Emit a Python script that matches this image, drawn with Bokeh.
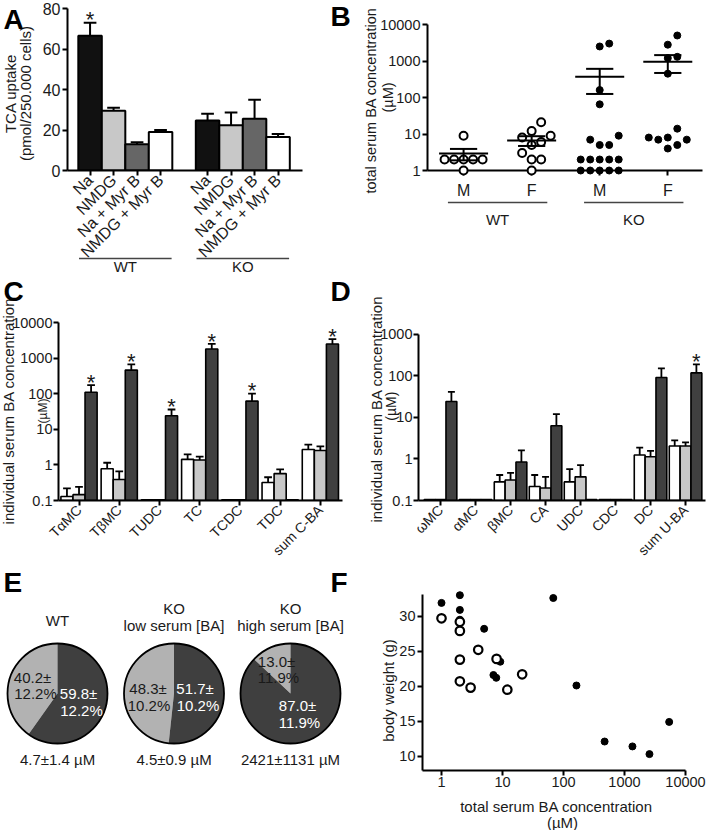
import math
from bokeh.plotting import figure
from bokeh.models import Range1d, FixedTicker
from bokeh.layouts import column, row
from bokeh.embed import file_html
from bokeh.resources import INLINE
from bokeh.core.properties import value

FONT = "Liberation Sans"
TXT = "#1a1a1a"

# ---------------- data ----------------
# A: TCA uptake (pmol/250.000 cells)
a_conditions = ["Na", "NMDG", "Na + Myr B", "NMDG + Myr B"]
a_groups = ["WT", "KO"]
a_wt_mean = [66.5, 29.5, 13.0, 19.0]
a_wt_err = [73.0, 31.0, 14.0, 20.0]
a_ko_mean = [24.7, 22.3, 25.6, 16.5]
a_ko_err = [28.0, 28.6, 35.0, 18.0]
a_sig = [True, False, False, False, False, False, False, False]
a_yticks = [0, 20, 40, 60, 80]

# B: total serum BA concentration (uM)
b_groups = ["WT", "KO"]
b_sex = ["M", "F", "M", "F"]
b_wt_m = [1, 2, 2, 2, 2, 2, 9]
b_wt_f = [1, 2, 2, 3, 5, 6, 8, 9, 12, 21]
b_ko_m = [1, 1, 1, 1, 1, 2, 2, 2, 2, 2, 5, 5, 7, 9, 65, 160, 2500, 3000]
b_ko_f = [4, 5, 7, 7, 8, 8, 14, 450, 1200, 1300, 2800, 5000]
b_mean = [2.9, 6.6, 370, 950]
b_sem_lo = [1.9, 4.7, 125, 470]
b_sem_hi = [3.9, 8.7, 610, 1450]
b_yticks = [1, 10, 100, 1000, 10000]

# C: conjugated BA (uM)  white = WT, light = KO low, dark = KO high
c_cats = ["T\u03b1MC", "T\u03b2MC", "TUDC", "TC", "TCDC", "TDC", "sum C-BA"]
c_wt = [0.13, 0.78, 0.105, 1.43, 0.105, 0.32, 2.7]
c_wt_err = [0.22, 1.15, None, 1.98, None, 0.45, 3.7]
c_kol = [0.146, 0.39, 0.105, 1.37, 0.105, 0.57, 2.55]
c_kol_err = [0.24, 0.66, None, 1.7, None, 0.75, 3.3]
c_koh = [110, 460, 24, 1800, 62, 0.105, 2500]
c_koh_err = [175, 670, 36, 2500, 100, None, 3400]
c_sig = [True, True, True, True, True, False, True]
c_yticks = [0.1, 1, 10, 100, 1000, 10000]

# D: unconjugated BA (uM)
d_cats = ["\u03c9MC", "\u03b1MC", "\u03b2MC", "CA", "UDC", "CDC", "DC", "sum U-BA"]
d_wt = [0.105, 0.105, 0.28, 0.217, 0.28, 0.105, 1.24, 2.05]
d_wt_err = [None, None, 0.41, 0.41, 0.57, None, 1.87, 2.78]
d_kol = [0.105, 0.105, 0.31, 0.2, 0.37, 0.105, 1.13, 2.05]
d_kol_err = [None, None, 0.46, 0.37, 0.71, None, 1.56, 2.5]
d_koh = [24, 0.105, 0.84, 6.3, 0.105, 0.105, 91, 117]
d_koh_err = [41, None, 1.6, 12, None, None, 150, 187]
d_sig = [False, False, False, False, False, False, False, True]
d_yticks = [0.1, 1, 10, 100, 1000]

# E: pies (conjugated share, %)
e_titles = [["WT"], ["KO", "low serum [BA]"], ["KO", "high serum [BA]"]]
e_dark_pct = [59.8, 51.7, 87.0]
e_sd = [12.2, 10.2, 11.9]
e_total = [4.7, 4.5, 2421]
e_total_sd = [1.4, 0.9, 1131]

# F: body weight vs total serum BA
f_ko_x = [1, 2, 2, 2, 5, 68, 9.2, 7.1, 7.9, 163, 472, 1350, 2565, 5400]
f_ko_y = [31.9, 33.0, 30.9, 29.5, 28.2, 32.6, 23.5, 21.6, 21.2, 20.1, 12.1, 11.4, 10.3, 14.9]
f_wt_x = [1, 2, 2, 4, 2, 8, 2, 3, 12, 21]
f_wt_y = [29.7, 29.2, 27.9, 25.2, 23.8, 23.9, 20.7, 19.8, 19.5, 21.7]
f_xticks = [1, 10, 100, 1000, 10000]
f_yticks = [10, 15, 20, 25, 30]


# ---------------- helpers ----------------
class Geo:
    """Figure placed at page (ox, oy) with its frame at page box (fl..fr, ft..fb)."""
    def __init__(s, ox, oy, w, h, fl, fr, ft, fb, xr, yr, xlog=False, ylog=False):
        s.ox, s.oy, s.w, s.h = ox, oy, w, h
        s.fl, s.fr, s.ft, s.fb = fl, fr, ft, fb
        s.xr, s.yr, s.xlog, s.ylog = xr, yr, xlog, ylog

    @staticmethod
    def _m(t, r, log):
        if log:
            a, b = math.log10(r[0]), math.log10(r[1])
            return 10 ** (a + t * (b - a))
        return r[0] + t * (r[1] - r[0])

    def x(s, px):
        return s._m((px - s.fl) / (s.fr - s.fl), s.xr, s.xlog)

    def y(s, py):
        return s._m((s.fb - py) / (s.fb - s.ft), s.yr, s.ylog)

    def xppu(s):
        return (s.fr - s.fl) / (s.xr[1] - s.xr[0])

    def up(s, v, px):
        """value v moved up by px screen pixels"""
        if s.ylog:
            ppd = (s.fb - s.ft) / (math.log10(s.yr[1]) - math.log10(s.yr[0]))
            return v * 10 ** (px / ppd)
        return v + px * (s.yr[1] - s.yr[0]) / (s.fb - s.ft)

    def fig(s, axes=True):
        kw = {}
        if not axes:
            kw = dict(x_axis_location=None, y_axis_location=None)
        p = figure(width=s.w, height=s.h, title=None,
                   x_range=Range1d(*s.xr), y_range=Range1d(*s.yr),
                   x_axis_type="log" if s.xlog else "linear",
                   y_axis_type="log" if s.ylog else "linear",
                   min_border_left=s.fl - s.ox, min_border_right=s.ox + s.w - s.fr,
                   min_border_top=s.ft - s.oy, min_border_bottom=s.oy + s.h - s.fb,
                   output_backend="svg", toolbar_location=None, tools="", **kw)
        p.outline_line_color = None
        p.xgrid.visible = False
        p.ygrid.visible = False
        return p


def style_axis(ax, size=14, standoff=2):
    ax.axis_line_width = 2
    ax.axis_line_color = "black"
    ax.major_tick_line_width = 2
    ax.major_tick_line_color = "black"
    ax.major_tick_out = 5
    ax.major_tick_in = 0
    ax.minor_tick_line_color = None
    ax.major_label_text_font = FONT
    ax.major_label_text_font_size = f"{size}px"
    ax.major_label_text_color = TXT
    ax.major_label_standoff = standoff


def lab(p, x, y, text, size=14, angle=0.0, color=TXT, bold=False, align="center", baseline="middle"):
    p.text(x=[x], y=[y], text=[text], angle=angle, text_font=value(FONT),
           text_font_size=f"{size}px", text_color=color,
           text_font_style="bold" if bold else "normal",
           text_align=align, text_baseline=baseline, level="overlay")


def plab(p, g, px, py, text, **kw):
    lab(p, g.x(px), g.y(py), text, **kw)


def stars(p, g, xs, tops):
    for x, t in zip(xs, tops):
        lab(p, x, g.up(t, 3), "*", size=22, baseline="alphabetic")


def beeswarm(vals, ypx_per_decade, d):
    placed, offs = [], []
    cands = [0.0]
    for j in range(1, 25):
        cands += [j * d, -j * d]
    for v in vals:
        yp = math.log10(v) * ypx_per_decade
        for c in cands:
            if all((c - qx) ** 2 + (yp - qy) ** 2 >= d * d - 1e-6 for qx, qy in placed):
                placed.append((c, yp))
                offs.append(c)
                break
    return offs


def group_bars(p, g, n, series, errs, colors, width, sig, lw=1.6):
    offs = [-width, 0.0, width]
    base = g.yr[0]
    for k, (vals, col) in enumerate(zip(series, colors)):
        xs = [i + offs[k] for i in range(n)]
        p.vbar(x=xs, top=vals, bottom=base, width=width, fill_color=col,
               line_color="black", line_width=lw)
    for k, (vals, ev) in enumerate(zip(series, errs)):
        xs = [i + offs[k] for i in range(n)]
        ex = [x for x, e in zip(xs, ev) if e is not None]
        e0 = [v for v, e in zip(vals, ev) if e is not None]
        e1 = [e for e in ev if e is not None]
        p.segment(x0=ex, y0=e0, x1=ex, y1=e1, line_color="black", line_width=1.8)
        p.segment(x0=[x - width * 0.32 for x in ex], y0=e1, x1=[x + width * 0.32 for x in ex], y1=e1,
                  line_color="black", line_width=1.8)
    dark_err = errs[2]
    stars(p, g, [i + offs[2] for i in range(n) if sig[i]], [dark_err[i] for i in range(n) if sig[i]])


def category_axis(p, labels, size=14):
    xs = list(range(len(labels)))
    style_axis(p.xaxis[0], size, 2)
    p.xaxis.ticker = FixedTicker(ticks=xs)
    p.xaxis.major_label_overrides = {i: t for i, t in zip(xs, labels)}
    p.xaxis.major_label_orientation = math.pi / 4


def letter(p, g, px, py, t):
    plab(p, g, px, py, t, size=28, bold=True, align="left", baseline="top", color="black")


# ---------------- Panel A ----------------
a_top_val = 80 + (8 - 4) / ((170 - 8) / 80)
gA = Geo(0, 0, 350, 274, 67, 302, 4, 170, (-0.96, 9.04), (0, a_top_val))
pA = gA.fig()
n_a = len(a_conditions)
a_x = list(range(n_a)) + [n_a + 1 + i for i in range(n_a)]
a_top = a_wt_mean + a_ko_mean
a_err = a_wt_err + a_ko_err
a_colors = ["#111111", "#c8c8c8", "#666666", "#ffffff"] * 2
pA.vbar(x=a_x, top=a_top, bottom=0, width=1.0, fill_color=a_colors, line_color="black", line_width=2)
pA.segment(x0=a_x, y0=a_top, x1=a_x, y1=a_err, line_color="black", line_width=2)
pA.segment(x0=[x - 0.27 for x in a_x], y0=a_err, x1=[x + 0.27 for x in a_x], y1=a_err,
           line_color="black", line_width=2)
stars(pA, gA, [x for x, s in zip(a_x, a_sig) if s], [e for e, s in zip(a_err, a_sig) if s])
style_axis(pA.xaxis[0], 16, 2)
style_axis(pA.yaxis[0], 16, 2)
pA.xaxis.ticker = FixedTicker(ticks=a_x)
pA.xaxis.major_label_overrides = {x: l for x, l in zip(a_x, a_conditions * 2)}
pA.xaxis.major_label_orientation = math.pi / 4
pA.yaxis.ticker = FixedTicker(ticks=a_yticks)
pA.yaxis.bounds = (0, 80)
for gi, name in enumerate(a_groups):
    x0 = a_x[gi * n_a] - 0.47
    x1 = a_x[gi * n_a + n_a - 1] + 0.47
    yl = gA.y(258)
    pA.segment(x0=[x0], y0=[yl], x1=[x1], y1=[yl], line_color="#444444", line_width=1.3, level="overlay")
    lab(pA, (x0 + x1) / 2, gA.y(266), name, size=15)
plab(pA, gA, 10, 93, "TCA uptake", size=15, angle=math.pi / 2)
plab(pA, gA, 25, 93, "(pmol/250.000 cells)", size=15, angle=math.pi / 2)
letter(pA, gA, 3, 3, "A")
letter(pA, gA, 330, 0, "B")

# ---------------- Panel B ----------------
b_ppd = (170 - 24) / 4.0
b_top_val = 10 ** (4 + (24 - 4) / b_ppd)
gB = Geo(350, 0, 360, 274, 427, 702, 4, 170, (-0.53, 3.51), (1, b_top_val), ylog=True)
pB = gB.fig()
xpx = gB.xppu()
for i, vals in enumerate([b_wt_m, b_wt_f, b_ko_m, b_ko_f]):
    offs = beeswarm(vals, b_ppd, 9.5)
    xs = [i + o / xpx for o in offs]
    if i < 2:
        pB.scatter(xs, vals, size=8, fill_color="white", line_color="black", line_width=2, level="overlay")
    else:
        pB.scatter(xs, vals, size=7, fill_color="black", line_color="black", line_width=1, level="overlay")
bx = list(range(4))
pB.segment(x0=[x - 0.36 for x in bx], y0=b_mean, x1=[x + 0.36 for x in bx], y1=b_mean,
           line_color="black", line_width=2, level="overlay")
pB.segment(x0=bx, y0=b_sem_lo, x1=bx, y1=b_sem_hi, line_color="black", line_width=2, level="overlay")
for arr in (b_sem_lo, b_sem_hi):
    pB.segment(x0=[x - 0.2 for x in bx], y0=arr, x1=[x + 0.2 for x in bx], y1=arr,
               line_color="black", line_width=2, level="overlay")
style_axis(pB.xaxis[0], 16, 6)
style_axis(pB.yaxis[0], 14.5, 2)
pB.xaxis.ticker = FixedTicker(ticks=bx)
pB.xaxis.major_label_overrides = {x: l for x, l in zip(bx, b_sex)}
pB.yaxis.ticker = FixedTicker(ticks=b_yticks)
pB.yaxis.major_label_overrides = {t: str(t) for t in b_yticks}
pB.yaxis.bounds = (1, 10000)
for gi, name in enumerate(b_groups):
    c = 2 * gi + 0.5
    yl = gB.y(202)
    pB.segment(x0=[c - 0.73], y0=[yl], x1=[c + 0.73], y1=[yl], line_color="#444444", line_width=1.3, level="overlay")
    lab(pB, c, gB.y(219), name, size=15)
plab(pB, gB, 370, 100, "total serum BA concentration", size=14.5, angle=math.pi / 2)
plab(pB, gB, 387, 97, "(\u00b5M)", size=14.5, angle=math.pi / 2)

# ---------------- Panel C ----------------
ROW2_TOP, ROW2_H = 274, 292
gC = Geo(0, ROW2_TOP, 350, ROW2_H, 58, 342, 322, 505, (-0.51, 6.55), (0.1, 10000), ylog=True)
pC = gC.fig()
cols3 = ["#ffffff", "#c8c8c8", "#404040"]
group_bars(pC, gC, len(c_cats), [c_wt, c_kol, c_koh], [c_wt_err, c_kol_err, c_koh_err], cols3, 0.3, c_sig)
category_axis(pC, c_cats, 14)
style_axis(pC.yaxis[0], 14.5, 1)
pC.yaxis.ticker = FixedTicker(ticks=c_yticks)
pC.yaxis.major_label_overrides = {t: str(t) for t in c_yticks}
plab(pC, gC, 8, 413, "individual serum BA concentration", size=15, angle=math.pi / 2)
plab(pC, gC, 42, 413, "(\u00b5M)", size=12, angle=math.pi / 2)
letter(pC, gC, 3, 274, "C")
letter(pC, gC, 330, 274, "D")

# ---------------- Panel D ----------------
d_ppd = (505 - 334) / 4.0
d_top_val = 10 ** (3 + (334 - 322) / d_ppd)
gD = Geo(350, ROW2_TOP, 360, ROW2_H, 418, 705, 322, 505, (-0.63, 7.57), (0.1, d_top_val), ylog=True)
pD = gD.fig()
group_bars(pD, gD, len(d_cats), [d_wt, d_kol, d_koh], [d_wt_err, d_kol_err, d_koh_err], cols3, 0.31, d_sig)
category_axis(pD, d_cats, 14)
style_axis(pD.yaxis[0], 14.5, 1)
pD.yaxis.ticker = FixedTicker(ticks=d_yticks)
pD.yaxis.major_label_overrides = {t: str(t) for t in d_yticks}
pD.yaxis.bounds = (0.1, 1000)
plab(pD, gD, 376, 411, "individual serum BA concentration", size=15, angle=math.pi / 2)
plab(pD, gD, 390, 408, "(\u00b5M)", size=14, angle=math.pi / 2)

# ---------------- Panel E ----------------
ROW3_TOP = ROW2_TOP + ROW2_H
ROW3_H = 830 - ROW3_TOP
gE = Geo(0, ROW3_TOP, 350, ROW3_H, 0, 350, 594, 770, (0, 350), (0, 176))
pE = gE.fig(axes=False)
R = 50
pie_px = [57 + i * 116.5 for i in range(3)]
pie_py = 693
pie_cx = [gE.x(px) for px in pie_px]
pie_cy = [gE.y(pie_py)] * 3
dark_start = [math.pi / 2 - 2 * math.pi * d / 100 for d in e_dark_pct]
pE.wedge(x=pie_cx, y=pie_cy, radius=R, start_angle=[math.pi / 2] * 3,
         end_angle=[s + 2 * math.pi for s in dark_start], fill_color="#b2b2b2", line_color=None)
pE.wedge(x=pie_cx, y=pie_cy, radius=R, start_angle=dark_start, end_angle=[math.pi / 2] * 3,
         fill_color="#3f3f3f", line_color=None)
pE.circle(x=pie_cx, y=pie_cy, radius=R, fill_color=None, line_color="black", line_width=1.8)
# in-pie label offsets (px from pie centre): light line1, light line2, dark line1, dark line2
pie_txt_off = [
    [(-25, -16), (-22, 0), (21, 0), (24, 17)],
    [(-26, -5), (-25, 12), (21, -5), (24, 12)],
    [(-14, -32), (-12, -16), (7, 12), (9, 29)],
]
for i in range(3):
    cxp = pie_px[i]
    d = e_dark_pct[i]
    sd = e_sd[i]
    lines = [f"{100 - d:.1f}\u00b1", f"{sd:.1f}%", f"{d:.1f}\u00b1", f"{sd:.1f}%"]
    colors = [TXT, TXT, "white", "white"]
    for (ox, oy), t, c in zip(pie_txt_off[i], lines, colors):
        plab(pE, gE, cxp + ox, pie_py + oy, t, size=15, color=c)
    title = e_titles[i]
    if len(title) == 1:
        plab(pE, gE, cxp, 620, title[0], size=15)
    else:
        plab(pE, gE, cxp, 608, title[0], size=15)
        plab(pE, gE, cxp, 625, title[1], size=15)
    plab(pE, gE, cxp, 759, f"{e_total[i]:g}\u00b1{e_total_sd[i]:g} \u00b5M", size=15)
letter(pE, gE, 3, ROW3_TOP, "E")
letter(pE, gE, 330, ROW3_TOP, "F")

# ---------------- Panel F ----------------
gF = Geo(350, ROW3_TOP, 360, ROW3_H, 422, 685, 594, 770, (0.488, 10000), (7.96, 33.1), xlog=True)
pF = gF.fig()
pF.scatter(f_ko_x, f_ko_y, size=7, fill_color="black", line_color="black", line_width=1, level="overlay")
pF.scatter(f_wt_x, f_wt_y, size=8.5, fill_color="white", line_color="black", line_width=2.2, level="overlay")
style_axis(pF.xaxis[0], 14.5, 1)
style_axis(pF.yaxis[0], 14.5, 2)
pF.xaxis.ticker = FixedTicker(ticks=f_xticks)
pF.xaxis.major_label_overrides = {t: str(t) for t in f_xticks}
pF.yaxis.ticker = FixedTicker(ticks=f_yticks)
plab(pF, gF, 388, 690, "body weight (g)", size=15, angle=math.pi / 2)
plab(pF, gF, 556, 806, "total serum BA concentration", size=15)
plab(pF, gF, 562, 822, "(\u00b5M)", size=15)

layout = column(row(pA, pB), row(pC, pD), row(pE, pF))
html = file_html(layout, INLINE, title="Figure")
open("out.html", "w").write(html)
